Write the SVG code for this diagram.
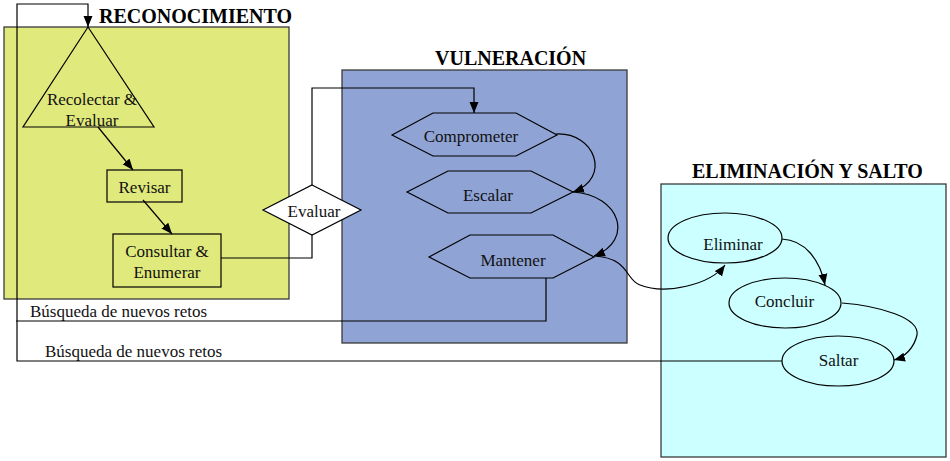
<svg xmlns="http://www.w3.org/2000/svg" width="950" height="461" viewBox="0 0 950 461">
  <defs>
    <style>
      .title { font-family: "Liberation Serif", "Times New Roman", serif; font-weight: bold; font-size: 20px; fill: #000; }
      .lbl { font-family: "Liberation Serif", "Times New Roman", serif; font-size: 17px; fill: #111; text-anchor: middle; }
      .note { font-family: "Liberation Serif", "Times New Roman", serif; font-size: 17px; fill: #111; }
      .container { stroke: #3a3a3a; stroke-width: 1.3; }
      .shape { fill: none; stroke: #000; stroke-width: 1.2; }
      .conn { fill: none; stroke: #000; stroke-width: 1.2; }
    </style>
    <marker id="arrow" markerUnits="userSpaceOnUse" markerWidth="12" markerHeight="10" refX="11" refY="4.5" orient="auto" viewBox="0 0 12 9">
      <path d="M0,0 L11,4.5 L0,9 z" fill="#000"/>
    </marker>
  </defs>
  <rect width="950" height="461" fill="#fff"/>

  <g id="reconocimiento">
    <rect class="container" x="4" y="27" width="285" height="272" fill="#e0e97c"/>
    <text class="title" x="99" y="23">RECONOCIMIENTO</text>
  </g>
  <g id="vulneracion">
    <rect class="container" x="342" y="70" width="285" height="273" fill="#8fa3d5"/>
    <text class="title" x="435" y="65">VULNERACIÓN</text>
  </g>
  <g id="eliminacion">
    <rect class="container" x="661" y="184" width="285" height="273" fill="#ccffff"/>
    <text class="title" x="692" y="178">ELIMINACIÓN Y SALTO</text>
  </g>

  <g id="recolectar">
    <polygon class="shape" points="88,27 154,127 23,127"/>
    <text class="lbl" x="92" y="105">Recolectar &amp;</text>
    <text class="lbl" x="92" y="126">Evaluar</text>
  </g>
  <g id="revisar">
    <rect class="shape" x="107" y="170" width="75" height="32"/>
    <text class="lbl" x="144.5" y="193">Revisar</text>
  </g>
  <g id="consultar">
    <rect class="shape" x="113" y="234" width="108" height="53"/>
    <text class="lbl" x="167" y="257">Consultar &amp;</text>
    <text class="lbl" x="167" y="278">Enumerar</text>
  </g>
  <g id="evaluar">
    <polygon points="312,185 361,210 312,235 263,210" fill="#fff" stroke="#000" stroke-width="1.2"/>
    <text class="lbl" x="314" y="217">Evaluar</text>
  </g>
  <g id="comprometer">
    <polygon class="shape" points="392,135 433,113 516,113 557,135 516,156 433,156"/>
    <text class="lbl" x="471" y="142">Comprometer</text>
  </g>
  <g id="escalar">
    <polygon class="shape" points="407,192 448,171 531,171 573,192 531,213 448,213"/>
    <text class="lbl" x="488" y="201">Escalar</text>
  </g>
  <g id="mantener">
    <polygon class="shape" points="429,257 470,235 553,235 594,257 553,278 470,278"/>
    <text class="lbl" x="513" y="266">Mantener</text>
  </g>
  <g id="eliminar">
    <ellipse class="shape" cx="725" cy="238" rx="57" ry="25"/>
    <text class="lbl" x="733" y="250">Eliminar</text>
  </g>
  <g id="concluir">
    <ellipse class="shape" cx="785" cy="303" rx="56" ry="25"/>
    <text class="lbl" x="784.5" y="307">Concluir</text>
  </g>
  <g id="saltar">
    <ellipse class="shape" cx="838" cy="361" rx="56" ry="25"/>
    <text class="lbl" x="838.5" y="366">Saltar</text>
  </g>

  <g id="connectors">
    <line class="conn" x1="98" y1="127" x2="133" y2="170" marker-end="url(#arrow)"/>
    <line class="conn" x1="143" y1="200" x2="172" y2="234" marker-end="url(#arrow)"/>
    <path class="conn" d="M221,258 H312 V235"/>
    <path class="conn" d="M312,185 V88 H474 V113" marker-end="url(#arrow)"/>
    <path class="conn" d="M782,361 H17 V4 H88 V27" marker-end="url(#arrow)"/>
    <path class="conn" d="M546,278 V321 H16"/>
    <path class="conn" d="M556,134 C595,132 612,178 573,192" marker-end="url(#arrow)"/>
    <path class="conn" d="M573,192 C620,195 635,240 594,256" marker-end="url(#arrow)"/>
    <path class="conn" d="M594,256 C630,258 625,280 640,285 C665,295 710,285 725,265" marker-end="url(#arrow)"/>
    <path class="conn" d="M782,239 C805,240 820,260 825,285" marker-end="url(#arrow)"/>
    <path class="conn" d="M842,303 C880,306 920,318 917,335 C914,348 905,357 894,360" marker-end="url(#arrow)"/>
    <text class="note" x="30" y="317">Búsqueda de nuevos retos</text>
    <text class="note" x="45" y="357">Búsqueda de nuevos retos</text>
  </g>
</svg>
